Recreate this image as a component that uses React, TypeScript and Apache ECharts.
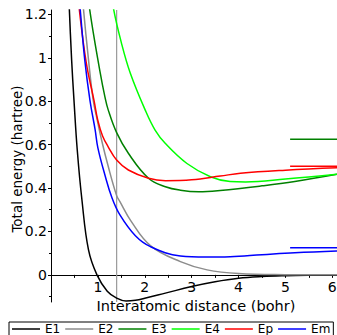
import React, { useEffect, useRef } from "react";
import * as echarts from "echarts";

// Interatomic distance (bohr) / total energy (hartree)
const e1X = [0.34, 0.39, 0.44, 0.49, 0.56, 0.66, 0.8, 0.98, 1.2, 1.4, 1.6, 1.8, 2.0, 2.46, 3.0, 3.5, 4.0, 4.5, 5.0, 5.5, 6.1];
const e1Y = [1.5, 1.23, 0.99, 0.805, 0.575, 0.345, 0.115, 0, -0.075, -0.107, -0.12, -0.117, -0.108, -0.083, -0.054, -0.032, -0.016, -0.008, -0.004, -0.002, -0.001];

const e2X = [0.62, 0.69, 0.8, 0.9, 0.98, 1.08, 1.22, 1.4, 1.47, 1.7, 2.12, 2.76, 3.33, 4.0, 5.0, 6.1];
const e2Y = [1.4, 1.23, 0.99, 0.805, 0.72, 0.62, 0.5, 0.365, 0.337, 0.25, 0.135, 0.061, 0.023, 0.006, 0.001, 0];

const e3X = [0.74, 0.82, 1.05, 1.15, 1.22, 1.4, 1.65, 2.08, 2.44, 2.76, 3.15, 3.61, 4.5, 5.2, 6.1];
const e3Y = [1.4, 1.23, 0.93, 0.82, 0.76, 0.655, 0.56, 0.445, 0.406, 0.39, 0.383, 0.389, 0.41, 0.43, 0.463];

const e4X = [1.22, 1.33, 1.5, 1.69, 2.01, 2.22, 2.44, 2.9, 3.4, 3.82, 4.15, 5.0, 6.1];
const e4Y = [1.4, 1.23, 1.07, 0.93, 0.759, 0.667, 0.605, 0.513, 0.452, 0.43, 0.428, 0.441, 0.463];

const epX = [0.53, 0.6, 0.75, 0.92, 1.0, 1.1, 1.22, 1.4, 1.65, 2.08, 2.44, 3.0, 3.61, 4.04, 5.0, 6.1];
const epY = [1.4, 1.23, 0.98, 0.8, 0.71, 0.64, 0.59, 0.529, 0.483, 0.445, 0.434, 0.438, 0.455, 0.468, 0.482, 0.493];

const emX = [0.55, 0.62, 0.72, 0.83, 0.94, 1.0, 1.15, 1.3, 1.47, 1.8, 2.12, 2.76, 3.3, 3.82, 4.5, 5.2, 6.1];
const emY = [1.4, 1.23, 0.99, 0.805, 0.67, 0.585, 0.46, 0.355, 0.276, 0.18, 0.13, 0.087, 0.082, 0.084, 0.093, 0.102, 0.11];

// separated-atom limits drawn as short segments at the right
const limitX = [5.1, 6.1];
const limitE3 = 0.625;
const limitEp = 0.5;
const limitEm = 0.125;

// equilibrium distance marker
const eqX = 1.4;

const seriesNames = ["E1", "E2", "E3", "E4", "Ep", "Em"];
const seriesColors = ["#000000", "#8c8c8c", "#008000", "#00ff00", "#ff0000", "#0000ff"];

const yMajor = [0, 0.2, 0.4, 0.6, 0.8, 1, 1.2];
const yMinor = [-0.1, 0.1, 0.3, 0.5, 0.7, 0.9, 1.1];

const xTitle = "Interatomic distance (bohr)";
const yTitle = "Total energy (hartree)";

const X_MIN = 0;
const X_MAX = 6.1;
const Y_MIN = -0.125;
const Y_MAX = 1.22;

const GRID_TOP = 10;
const GRID_BOTTOM = 33;
const CHART_H = 335;

const zip = (xs: number[], ys: number[]) => xs.map((x, i) => [x, ys[i]]);

export default function App() {
  const ref = useRef<HTMLDivElement>(null);
  useEffect(() => {
    if (!ref.current) return;
    const chart = echarts.init(ref.current, null, { renderer: "svg" });
    const font = "DejaVu Sans";
    const curves = [
      zip(e1X, e1Y),
      zip(e2X, e2Y),
      zip(e3X, e3Y),
      zip(e4X, e4Y),
      zip(epX, epY),
      zip(emX, emY),
    ];
    const lineSeries: any[] = curves.map((d, i) => ({
      type: "line",
      name: seriesNames[i],
      data: d,
      showSymbol: false,
      symbol: "none",
      smooth: 0.4,
      clip: true,
      lineStyle: { color: seriesColors[i], width: 1.5 },
      itemStyle: { color: seriesColors[i] },
      z: 3,
    }));
    const seg = (y: number, color: string) => ({
      type: "line",
      name: "lim",
      data: limitX.map((x) => [x, y]),
      showSymbol: false,
      symbol: "none",
      lineStyle: { color, width: 1.5 },
      silent: true,
    });
    lineSeries.push(seg(limitE3, "#008000"));
    lineSeries.push(seg(limitEp, "#ff0000"));
    lineSeries.push(seg(limitEm, "#0000ff"));
    lineSeries.push({
      type: "line",
      name: "eq",
      data: [
        [eqX, Y_MIN],
        [eqX, Y_MAX],
      ],
      showSymbol: false,
      symbol: "none",
      lineStyle: { color: "#999999", width: 1.2 },
      silent: true,
      z: 2,
    });

    // x axis drawn at energy 0: offset from the grid's bottom edge
    const plotH = CHART_H - GRID_TOP - GRID_BOTTOM;
    const zeroOffset = -((0 - Y_MIN) / (Y_MAX - Y_MIN)) * plotH;

    chart.setOption({
      animation: false,
      backgroundColor: "#ffffff",
      textStyle: { fontFamily: font },
      grid: { left: 51, right: 0, top: GRID_TOP, bottom: GRID_BOTTOM, containLabel: false, outerBoundsMode: "none" },
      graphic: [
        {
          type: "text",
          x: 196,
          y: 306,
          z: 10,
          style: {
            text: xTitle,
            fontFamily: font,
            fontSize: 14.5,
            fill: "#000",
            align: "center",
            verticalAlign: "middle",
          },
        },
        {
          type: "text",
          x: 17,
          y: 159,
          rotation: Math.PI / 2,
          z: 10,
          style: {
            text: yTitle,
            fontFamily: font,
            fontSize: 13.5,
            fill: "#000",
            align: "center",
            verticalAlign: "middle",
          },
        },
      ],
      legend: {
        data: seriesNames.map((n) => ({ name: n, icon: "rect" })),
        left: 9,
        top: 322,
        itemWidth: 28,
        itemHeight: 1.5,
        itemGap: 5,
        textStyle: { fontFamily: font, fontSize: 12, color: "#000", lineHeight: 12 },
        borderColor: "#000",
        borderWidth: 1,
        borderRadius: 0,
        padding: [1, 3, 4, 3],
        backgroundColor: "#fff",
      },
      xAxis: {
        type: "value",
        min: X_MIN,
        max: X_MAX,
        interval: 1,
        position: "bottom",
        offset: zeroOffset,
        axisLine: { onZero: false, lineStyle: { color: "#000", width: 1 } },
        axisTick: { show: true, length: 3, lineStyle: { color: "#000" } },
        minorTick: { show: true, splitNumber: 2, length: 3, lineStyle: { color: "#000" } },
        axisLabel: {
          fontFamily: font,
          fontSize: 14,
          color: "#000",
          margin: 5,
          formatter: (v: number) => (v === 0 ? "" : String(v)),
        },
        splitLine: { show: false },
      },
      yAxis: [
        {
          type: "value",
          min: Y_MIN,
          max: Y_MAX,
          axisLine: { onZero: false, lineStyle: { color: "#000", width: 1 } },
          axisTick: { show: true, length: 3, customValues: yMajor, lineStyle: { color: "#000" } },
          axisLabel: { fontFamily: font, fontSize: 14, color: "#000", margin: 4, customValues: yMajor },
          splitLine: { show: false },
        },
        {
          type: "value",
          min: Y_MIN,
          max: Y_MAX,
          position: "left",
          axisLine: { show: false, onZero: false },
          axisTick: { show: true, length: 2, customValues: yMinor, lineStyle: { color: "#000" } },
          axisLabel: { show: false },
          splitLine: { show: false },
        },
      ],
      series: lineSeries,
    });
    return () => chart.dispose();
  }, []);
  return (
    <div
      ref={ref}
      style={{ position: "fixed", left: 0, top: 0, width: 337, height: 335 }}
    />
  );
}
